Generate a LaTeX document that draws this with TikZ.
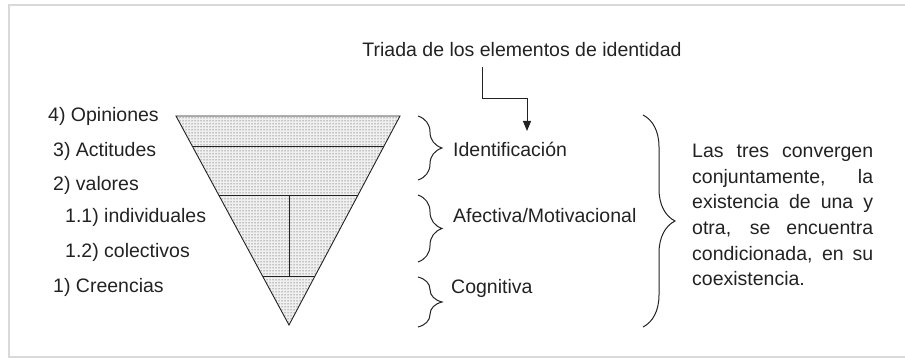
\documentclass[tikz,border=0pt]{standalone}
\usepackage{fontspec}
\setmainfont{Liberation Sans}
\usetikzlibrary{arrows.meta, calc, patterns, decorations.pathreplacing}
\definecolor{framegray}{HTML}{D9D9D9}
\definecolor{inkgray}{HTML}{222222}

\tikzset{
  lbl/.style={anchor=base west, inner sep=0pt, text=inkgray, font=\fontsize{19.5}{23}\selectfont},
  curly/.style={decorate, decoration={brace, amplitude=#1}, draw=inkgray, line width=1pt},
}

\begin{document}
\begin{tikzpicture}[x=1pt, y=-1pt]
  \useasboundingbox (0,0) rectangle (905,358);
  \draw[framegray, line width=1.5pt] (905,5) -- (9,5) -- (9,357) -- (905,357);

  % inverted triangle
  \coordinate (tl) at (176,116);
  \coordinate (tr) at (400,116);
  \coordinate (ap) at (289,325);
  \fill[gray!12] (tl) -- (tr) -- (ap) -- cycle;
  \fill[pattern=dots, pattern color=black!85] (tl) -- (tr) -- (ap) -- cycle;
  \draw[inkgray, line width=0.9pt] (tl) -- (tr) -- (ap) -- cycle;
  \coordinate (l1) at ($(tl)!0.148!(ap)$);
  \coordinate (r1) at ($(tr)!0.148!(ap)$);
  \coordinate (l2) at ($(tl)!0.378!(ap)$);
  \coordinate (r2) at ($(tr)!0.378!(ap)$);
  \coordinate (l3) at ($(tl)!0.770!(ap)$);
  \coordinate (r3) at ($(tr)!0.770!(ap)$);
  \draw[inkgray, line width=0.9pt] (l1) -- (r1);
  \draw[inkgray, line width=0.9pt] (l2) -- (r2);
  \draw[inkgray, line width=0.9pt] (l3) -- (r3);
  \draw[inkgray, line width=0.9pt] (ap |- l2) -- (ap |- l3);

  % levels
  \node[lbl] (opin) at (48,122) {4) Opiniones};
  \node[lbl] (acti) at (53,157) {3) Actitudes};
  \node[lbl] (valo) at (53,191) {2) valores};
  \node[lbl] (indi) at (65,223) {1.1) individuales};
  \node[lbl] (cole) at (65,258) {1.2) colectivos};
  \node[lbl] (cree) at (53,292) {1) Creencias};

  % triad
  \node[lbl, anchor=base] (triada) at (522,57) {Triada de los elementos de identidad};
  \coordinate (tstart) at (482,67);
  \coordinate (tbend) at (527,99);
  \coordinate (tend) at (527,131);
  \draw[inkgray, line width=1pt, -{Triangle[length=10pt, width=8pt]}] (tstart) |- (tbend) -- (tend);

  \draw[curly=24pt] (418,116) -- (418,180);
  \draw[curly=24pt] (418,195) -- (418,262);
  \draw[curly=24pt] (418,277) -- (418,327);
  \node[lbl] (ident) at (453,157) {Identificación};
  \node[lbl] (afec) at (453,223) {Afectiva/Motivacional};
  \node[lbl] (cogn) at (451,293) {Cognitiva};

  \draw[curly=32pt] (643,115) -- (643,327);
  \node[lbl, anchor=north west, text width=181pt, align=justify,
        font=\fontsize{19.5}{25.6}\selectfont] (conv) at (692,144) {\tolerance=9999
    Las tres convergen\linebreak conjuntamente, la\linebreak existencia de una y\linebreak
    otra, se encuentra\linebreak condicionada, en su\linebreak coexistencia.};
\end{tikzpicture}
\end{document}
